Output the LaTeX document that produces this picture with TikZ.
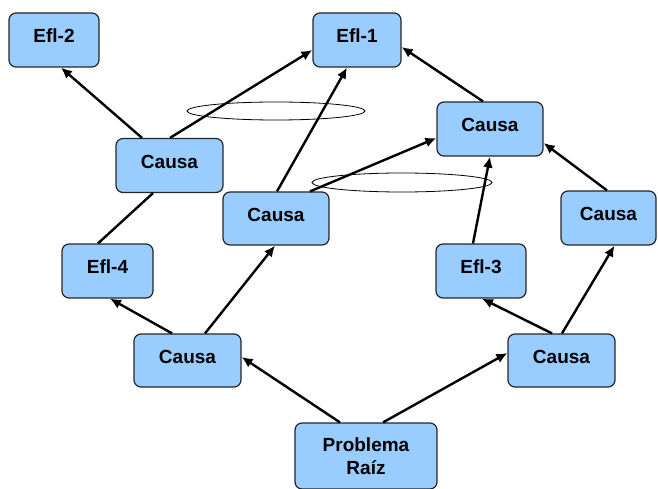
\documentclass[tikz,border=0pt]{standalone}
\usepackage{fontspec}
\setmainfont{Liberation Sans}
\usetikzlibrary{arrows.meta,shapes.geometric}

\definecolor{cajaazul}{RGB}{153,204,255}

\begin{document}
\begin{tikzpicture}[x=1pt, y=-1pt,
			caja/.style   = {draw=black!85, line width=1.2pt, fill=cajaazul, rounded corners=7pt, align=center, inner sep=0pt, font=\fontsize{19}{23}\selectfont\bfseries},
			efecto/.style = {caja, text depth=8pt, minimum width=90pt, minimum height=54pt},
			causa/.style  = {caja, text depth=8pt, minimum width=107pt, minimum height=54pt},
			grupo/.style  = {draw, ellipse, line width=0.8pt, inner sep=0pt},
			flecha/.style = {->, line width=2.4pt},
			>={Latex[length=11pt,width=10pt]}]
			
			\useasboundingbox (0,0) rectangle (658,489);
			
			% effects on top
			\node[efecto] (efl2) at (54,40) {Efl-2};
			\node[efecto, minimum width=88pt] (efl1) at (357,40) {Efl-1};
			
			% upper causes
			\node[causa] (causaA) at (169.5,165.5) {Causa};
			\node[causa, minimum width=106pt, minimum height=53pt] (causaB) at (276,218.5) {Causa};
			\node[causa, minimum width=106pt] (causaC) at (490,129) {Causa};
			\node[causa, minimum width=95pt] (causaD) at (608.5,218) {Causa};
			
			% lower effects
			\node[efecto, minimum width=91pt] (efl4) at (107.5,271) {Efl-4};
			\node[efecto] (efl3) at (481,271) {Efl-3};
			
			% lower causes and the root problem
			\node[causa, minimum height=53pt] (causaE) at (187.5,360.5) {Causa};
			\node[causa, minimum height=53pt] (causaF) at (561.5,360.5) {Causa};
			\node[caja, minimum width=142pt, minimum height=66pt] (raiz) at (366,456) {Problema\\Raíz};
			
			% rings round the crossing arrows
			\node[grupo, minimum width=178pt, minimum height=18pt] (anillo1) at (276,111) {};
			\node[grupo, minimum width=180pt, minimum height=19pt] (anillo2) at (402,182.5) {};
			
			% from the root problem upwards
			\draw[flecha] ([xshift=-26pt]raiz.north) -- ([yshift=3.5pt]causaE.east);
			\draw[flecha] ([xshift=17pt]raiz.north) -- ([yshift=7.5pt]causaF.west);
			
			% left branch
			\draw[flecha] ([xshift=-15.5pt]causaE.north) -- ([xshift=2.5pt]efl4.south);
			\draw[flecha] ([xshift=17.5pt]causaE.north) -- ([xshift=-1pt]causaB.south);
			\draw[line width=2.4pt] ([xshift=-9.5pt]efl4.north) -- ([xshift=-16.5pt]causaA.south);
			\draw[flecha] ([xshift=-27.5pt]causaA.north) -- ([xshift=7pt]efl2.south);
			\draw[flecha] ([xshift=0.5pt]causaA.north) -- ([yshift=-10pt]efl1.west);
			\draw[flecha] ([xshift=1pt]causaB.north) -- ([xshift=-10pt]efl1.south);
			\draw[flecha] ([xshift=34pt]causaB.north) -- ([yshift=-9pt]causaC.west);
			
			% right branch
			\draw[flecha] ([xshift=-9.5pt]causaF.north) -- ([xshift=1pt]efl3.south);
			\draw[flecha] ([xshift=0.5pt]causaF.north) -- ([xshift=6pt]causaD.south);
			\draw[flecha] ([xshift=-8pt]efl3.north) -- (causaC.south);
			\draw[flecha] ([xshift=-1.5pt]causaD.north) -- ([yshift=-14pt]causaC.east);
			\draw[flecha] ([xshift=-7pt]causaC.north) -- ([yshift=-7pt]efl1.east);
		\end{tikzpicture}
\end{document}
